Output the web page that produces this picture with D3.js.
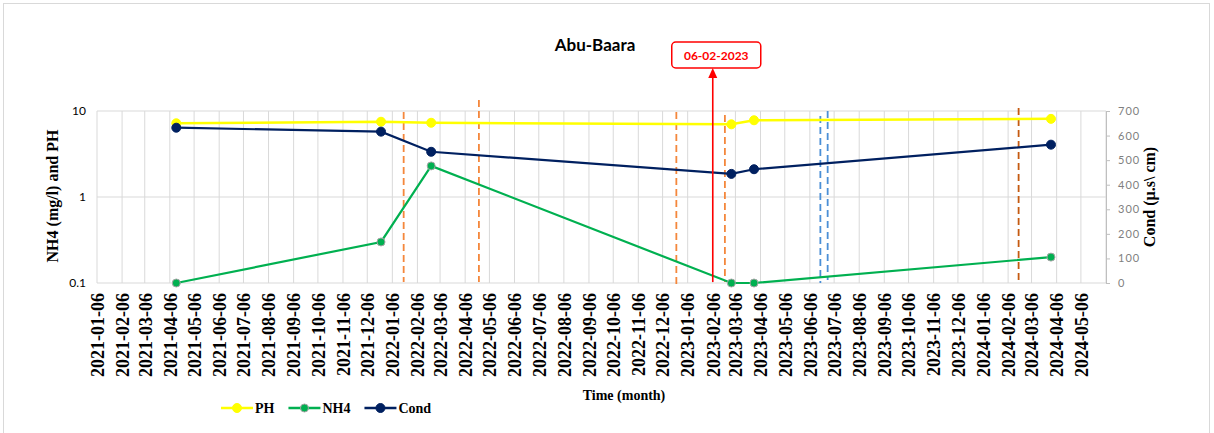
<!DOCTYPE html>
<html>
<head>
<meta charset="utf-8">
<script src="https://cdn.jsdelivr.net/npm/d3@7"></script>
<style>
  body { margin: 0; background: #fff; }
  svg { display: block; }
</style>
</head>
<body>
<svg id="chart" width="1214" height="433"></svg>
<script>
// sampling dates and measured values
const sampleDates = ["2021-04-14", "2021-12-23", "2022-02-23", "2023-03-01", "2023-03-29", "2024-03-30"];
const phValues = [7.2, 7.5, 7.3, 7.0, 7.8, 8.1];
const nh4Values = [0.1, 0.3, 2.3, 0.1, 0.1, 0.2];
const condValues = [632, 616, 534, 444, 463, 563];

// month ticks on the time axis
const monthTicks = [
    "2021-01-06", "2021-02-06", "2021-03-06", "2021-04-06", "2021-05-06", "2021-06-06",
    "2021-07-06", "2021-08-06", "2021-09-06", "2021-10-06", "2021-11-06", "2021-12-06",
    "2022-01-06", "2022-02-06", "2022-03-06", "2022-04-06", "2022-05-06", "2022-06-06",
    "2022-07-06", "2022-08-06", "2022-09-06", "2022-10-06", "2022-11-06", "2022-12-06",
    "2023-01-06", "2023-02-06", "2023-03-06", "2023-04-06", "2023-05-06", "2023-06-06",
    "2023-07-06", "2023-08-06", "2023-09-06", "2023-10-06", "2023-11-06", "2023-12-06",
    "2024-01-06", "2024-02-06", "2024-03-06", "2024-04-06", "2024-05-06"
];
const leftTicks = [0.1, 1, 10];
const rightTicks = [0, 100, 200, 300, 400, 500, 600, 700];

// event lines (top / bottom given in Cond units)
const eventDates = ["2022-01-20", "2022-04-23", "2022-12-23", "2023-02-21", "2023-06-19", "2023-06-28", "2024-02-19"];
const eventColors = ["#f4873c", "#f4873c", "#f4873c", "#f4873c", "#4a8fd6", "#4a8fd6", "#c55a11"];
const eventTops = [696, 745, 696, 684, 680, 700, 712];
const eventBottoms = [4, 4, -16, 4, 0, 12, -4];

const highlightDate = "2023-02-06";
const highlightLabel = "06-02-2023";

const parse = d3.timeParse("%Y-%m-%d");
const svg = d3.select("#chart");

const plot = { left: 97, right: 1106, top: 111, bottom: 283 };

const x = d3.scaleTime()
    .domain([parse("2021-01-06"), parse("2024-06-06")])
    .range([plot.left, plot.right]);

const yLeft = d3.scaleLog()
    .domain([0.1, 10])
    .range([plot.bottom, plot.top]);

const yRight = d3.scaleLinear()
    .domain([0, 700])
    .range([plot.bottom, plot.top]);

// outer frame
svg.append("rect")
    .attr("x", 3.5).attr("y", 3.5)
    .attr("width", 1206).attr("height", 440)
    .attr("fill", "none")
    .attr("stroke", "#d9d9d9");

// gridlines
svg.append("g")
    .selectAll("line")
    .data(monthTicks.map(parse).concat([parse("2024-06-06")]))
    .enter()
    .append("line")
    .attr("x1", d => x(d)).attr("x2", d => x(d))
    .attr("y1", plot.top).attr("y2", plot.bottom)
    .attr("stroke", "#d9d9d9")
    .attr("stroke-width", 1);

svg.append("g")
    .selectAll("line")
    .data(leftTicks)
    .enter()
    .append("line")
    .attr("x1", plot.left).attr("x2", plot.right)
    .attr("y1", d => yLeft(d)).attr("y2", d => yLeft(d))
    .attr("stroke", "#d9d9d9")
    .attr("stroke-width", 1);

// left axis labels
const gl = svg.append("g")
    .attr("transform", `translate(${plot.left}, 0)`)
    .call(d3.axisLeft(yLeft).tickValues(leftTicks).tickFormat(d3.format("")).tickSize(0).tickPadding(11));
gl.select(".domain").remove();
gl.selectAll("text")
    .attr("font-family", "Lato, sans-serif")
    .attr("font-size", 12)
    .attr("fill", "#000");

// right axis
const gr = svg.append("g")
    .attr("transform", `translate(${plot.right}, 0)`)
    .call(d3.axisRight(yRight).tickValues(rightTicks).tickSize(4).tickPadding(8));
gr.select(".domain").attr("stroke", "#bfbfbf");
gr.selectAll(".tick line").attr("stroke", "#bfbfbf");
gr.selectAll("text")
    .attr("font-family", "Lato, sans-serif")
    .attr("font-size", 11)
    .attr("letter-spacing", 1)
    .attr("fill", "#7f7f7f");

// bottom axis labels (rotated)
const gb = svg.append("g")
    .attr("transform", `translate(0, ${plot.bottom})`)
    .call(d3.axisBottom(x).tickValues(monthTicks.map(parse)).tickFormat(d3.timeFormat("%Y-%m-%d")).tickSize(0));
gb.select(".domain").remove();
gb.selectAll("text")
    .attr("font-family", "'Liberation Serif', 'Times New Roman', serif")
    .attr("font-weight", "bold")
    .attr("font-size", 18)
    .attr("fill", "#000")
    .attr("text-anchor", "end")
    .attr("transform", "rotate(-90)")
    .attr("x", -10)
    .attr("y", 0)
    .attr("dy", "0.35em");

// event lines
svg.append("g")
    .selectAll("line")
    .data(eventDates.map((d, i) => ({ date: parse(d), color: eventColors[i], top: eventTops[i], bottom: eventBottoms[i] })))
    .enter()
    .append("line")
    .attr("x1", d => x(d.date)).attr("x2", d => x(d.date))
    .attr("y1", d => yRight(d.top)).attr("y2", d => yRight(d.bottom))
    .attr("stroke", d => d.color)
    .attr("stroke-width", 1.8)
    .attr("stroke-dasharray", "7,4");

// series
const series = [
    { name: "PH", values: phValues, scale: yLeft, color: "#ffff00", stroke: "#ffff00", r: 4.5, width: 2.5 },
    { name: "NH4", values: nh4Values, scale: yLeft, color: "#00b050", stroke: "#a5a5a5", r: 4, width: 2.2 },
    { name: "Cond", values: condValues, scale: yRight, color: "#002060", stroke: "#002060", r: 4.5, width: 2.2 }
];

series.forEach(s => {
    const pts = sampleDates.map((d, i) => ({ date: parse(d), v: s.values[i] }));
    const line = d3.line()
        .x(d => x(d.date))
        .y(d => s.scale(d.v));

    svg.append("path")
        .datum(pts)
        .attr("fill", "none")
        .attr("stroke", s.color)
        .attr("stroke-width", s.width)
        .attr("d", line);

    svg.append("g")
        .selectAll("circle")
        .data(pts)
        .enter()
        .append("circle")
        .attr("cx", d => x(d.date))
        .attr("cy", d => s.scale(d.v))
        .attr("r", s.r)
        .attr("fill", s.color)
        .attr("stroke", s.stroke)
        .attr("stroke-width", 1);
});

// highlight arrow + box
const hx = x(parse(highlightDate));
svg.append("line")
    .attr("x1", hx).attr("x2", hx)
    .attr("y1", plot.bottom - 1).attr("y2", 76)
    .attr("stroke", "#ff0000")
    .attr("stroke-width", 1.6);
svg.append("path")
    .attr("d", `M${hx},68 L${hx - 4.5},78 L${hx + 4.5},78 Z`)
    .attr("fill", "#ff0000");
svg.append("rect")
    .attr("x", hx - 41).attr("y", 42)
    .attr("width", 89).attr("height", 26)
    .attr("rx", 4)
    .attr("fill", "#fff")
    .attr("stroke", "#ff0000")
    .attr("stroke-width", 1.5);
svg.append("text")
    .attr("x", hx + 3.5).attr("y", 59.5)
    .attr("text-anchor", "middle")
    .attr("font-family", "Lato, sans-serif")
    .attr("font-weight", "bold")
    .attr("font-size", 12)
    .attr("fill", "#ff0000")
    .text(highlightLabel);

// Title
svg.append("text")
    .attr("x", 595).attr("y", 51)
    .attr("text-anchor", "middle")
    .attr("font-family", "Lato, sans-serif")
    .attr("font-weight", "bold")
    .attr("font-size", 17)
    .attr("fill", "#000")
    .text("Abu-Baara");

// Axis titles
svg.append("text")
    .attr("transform", "rotate(-90)")
    .attr("x", -196).attr("y", 58)
    .attr("text-anchor", "middle")
    .attr("font-family", "'Liberation Serif', 'Times New Roman', serif")
    .attr("font-weight", "bold")
    .attr("font-size", 16)
    .text("NH4 (mg/l) and PH");

svg.append("text")
    .attr("transform", "rotate(-90)")
    .attr("x", -197).attr("y", 1155)
    .attr("text-anchor", "middle")
    .attr("font-family", "'Liberation Serif', 'Times New Roman', serif")
    .attr("font-weight", "bold")
    .attr("font-size", 16)
    .text("Cond (µ.s\\ cm)");

svg.append("text")
    .attr("x", 624).attr("y", 400)
    .attr("text-anchor", "middle")
    .attr("font-family", "'Liberation Serif', 'Times New Roman', serif")
    .attr("font-weight", "bold")
    .attr("font-size", 14)
    .text("Time (month)");

// Legend
const legend = svg.append("g").attr("transform", "translate(221, 408)");
let lx = 0;
series.forEach(s => {
    const item = legend.append("g").attr("transform", `translate(${lx}, 0)`);
    item.append("line")
        .attr("x1", 0).attr("x2", 32)
        .attr("y1", 0).attr("y2", 0)
        .attr("stroke", s.color)
        .attr("stroke-width", 2.5);
    item.append("circle")
        .attr("cx", 16).attr("cy", 0)
        .attr("r", s.r)
        .attr("fill", s.color)
        .attr("stroke", s.stroke)
        .attr("stroke-width", 1);
    const t = item.append("text")
        .attr("x", 34).attr("y", 5)
        .attr("font-family", "'Liberation Serif', 'Times New Roman', serif")
        .attr("font-weight", "bold")
        .attr("font-size", 14)
        .text(s.name);
    lx += 34 + t.node().getComputedTextLength() + 14;
});
</script>
</body>
</html>
